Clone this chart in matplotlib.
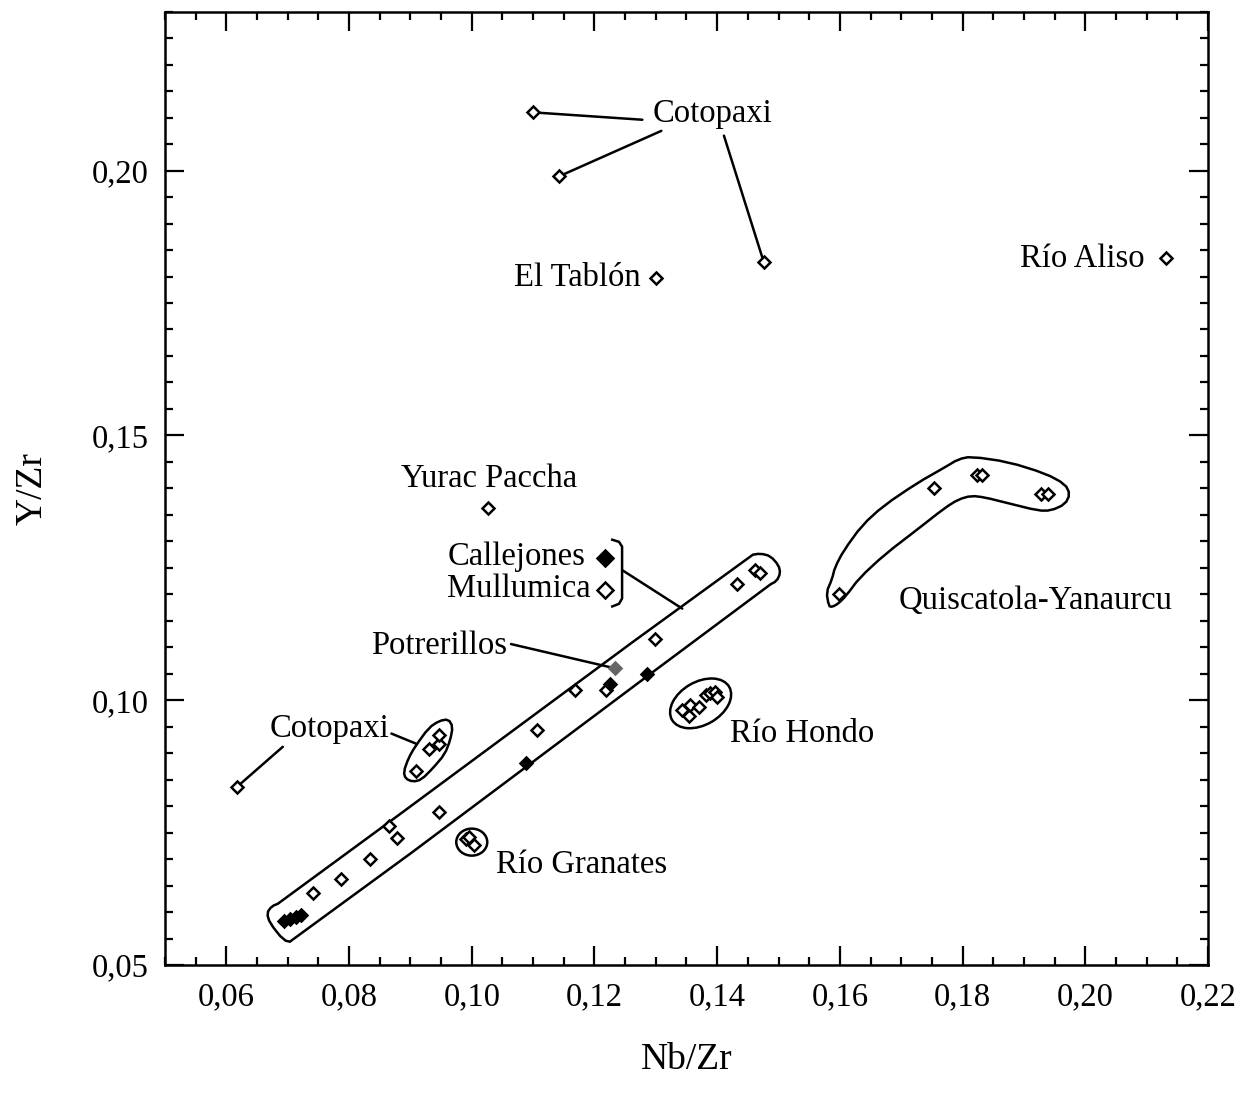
import numpy as np
import matplotlib
matplotlib.use('Agg')
import matplotlib.pyplot as plt
from matplotlib.patches import Polygon, Ellipse
from matplotlib.transforms import ScaledTranslation

plt.rcParams['font.family'] = ['Liberation Serif', 'DejaVu Serif']

# ---------------- data (Nb/Zr, Y/Zr) ----------------
mullumica_x = [0.0742, 0.0787, 0.0834, 0.0865, 0.0878, 0.0947, 0.1107, 0.1168, 0.1219, 0.1298, 0.1432, 0.1461, 0.1470]
mullumica_y = [0.0636, 0.0662, 0.0701, 0.0762, 0.0740, 0.0788, 0.0943, 0.1019, 0.1019, 0.1116, 0.1220, 0.1245, 0.1240]

callejones_x = [0.0694, 0.0703, 0.0713, 0.0721, 0.1089, 0.1225, 0.1286]
callejones_y = [0.0583, 0.0587, 0.0591, 0.0594, 0.0881, 0.1030, 0.1049]

potrerillos_x = [0.1234]
potrerillos_y = [0.1060]

cotopaxi_x = [0.1099, 0.1142, 0.1476, 0.0617, 0.0909, 0.0930, 0.0947, 0.0947]
cotopaxi_y = [0.2110, 0.1989, 0.1827, 0.0836, 0.0867, 0.0908, 0.0918, 0.0935]

tablon_x, tablon_y = [0.1300], [0.1798]
aliso_x, aliso_y = [0.2131], [0.1835]
yurac_x, yurac_y = [0.1027], [0.1362]

granates_x = [0.0991, 0.1004, 0.0996]
granates_y = [0.0737, 0.0726, 0.0741]

hondo_x = [0.1343, 0.1354, 0.1356, 0.1370, 0.1381, 0.1389, 0.1397, 0.1400]
hondo_y = [0.0981, 0.0970, 0.0991, 0.0987, 0.1009, 0.1013, 0.1016, 0.1006]

quisca_x = [0.1598, 0.1753, 0.1824, 0.1832, 0.1927, 0.1939]
quisca_y = [0.1200, 0.1401, 0.1426, 0.1426, 0.1390, 0.1390]

x_ticks = [0.06, 0.08, 0.10, 0.12, 0.14, 0.16, 0.18, 0.20, 0.22]
x_labels = ['0,06', '0,08', '0,10', '0,12', '0,14', '0,16', '0,18', '0,20', '0,22']
y_ticks = [0.05, 0.10, 0.15, 0.20]
y_labels = ['0,05', '0,10', '0,15', '0,20']

# ---------------- figure ----------------
W, H = 1253, 1095
fig = plt.figure(figsize=(W / 100, H / 100), dpi=100)
ax = fig.add_axes([165 / W, 1 - 965 / H, (1208 - 165) / W, (965 - 11.7) / H])
ax.set_xlim(0.05, 0.22)
ax.set_ylim(0.05, 0.23)

FS = 23.5
LW = 1.8


def chaikin(pts, n=1):
    p = np.asarray(pts, float)
    for _ in range(n):
        q = np.roll(p, -1, axis=0)
        a = 0.75 * p + 0.25 * q
        b = 0.25 * p + 0.75 * q
        p = np.empty((2 * len(a), 2))
        p[0::2] = a
        p[1::2] = b
    return p


# envelopes
band = [(0.0687, 0.0617), (0.0674, 0.0611), (0.0666, 0.0598), (0.0671, 0.0579),
        (0.0693, 0.0547), (0.0707, 0.0543), (0.1484, 0.1217), (0.1497, 0.1225),
        (0.1503, 0.1240), (0.1500, 0.1255), (0.1487, 0.1272), (0.1471, 0.1277),
        (0.1454, 0.1274)]
ax.add_patch(Polygon(chaikin(band, 1), closed=True, fill=False, lw=LW, ec='black', zorder=2))

quisca_env = [(0.1582, 0.1178), (0.1578, 0.1204), (0.1587, 0.1228), (0.1592, 0.1251),
              (0.1606, 0.1282), (0.1636, 0.1330), (0.1671, 0.1367), (0.1726, 0.1410),
              (0.1770, 0.1439), (0.1793, 0.1455), (0.1814, 0.1460), (0.1874, 0.1450),
              (0.1935, 0.1428), (0.1967, 0.1408), (0.1975, 0.1389), (0.1967, 0.1370),
              (0.1944, 0.1358), (0.1923, 0.1358), (0.1874, 0.1372), (0.1836, 0.1383),
              (0.1814, 0.1386), (0.1793, 0.1379), (0.1771, 0.1363), (0.1728, 0.1324),
              (0.1673, 0.1275), (0.1632, 0.1231), (0.1610, 0.1197), (0.1597, 0.1182),
              (0.1587, 0.1176)]
ax.add_patch(Polygon(chaikin(quisca_env, 1), closed=True, fill=False, lw=LW, ec='black', zorder=2))

coto_env = [(0.0889, 0.0865), (0.0897, 0.0891), (0.0908, 0.0913), (0.0930, 0.0948),
            (0.0947, 0.0961), (0.0962, 0.0964), (0.0969, 0.0950), (0.0965, 0.0925),
            (0.0956, 0.0898), (0.0937, 0.0872), (0.0918, 0.0850), (0.0904, 0.0846),
            (0.0892, 0.0852)]
ax.add_patch(Polygon(chaikin(coto_env, 1), closed=True, fill=False, lw=LW, ec='black', zorder=2))


def px_ellipse(cx, cy, w_px, h_px, angle):
    tr = fig.dpi_scale_trans + ScaledTranslation(cx, cy, ax.transData)
    return Ellipse((0, 0), w_px / 100, h_px / 100, angle=angle, transform=tr,
                   fill=False, lw=LW, ec='black', zorder=2)


ax.add_patch(px_ellipse(0.1373, 0.0994, 66, 43, 30))
ax.add_patch(px_ellipse(0.1000, 0.0732, 31, 27, 0))

# leader lines
def leader(p_from, p_to):
    ax.annotate('', xy=p_to, xytext=p_from,
                arrowprops=dict(arrowstyle='-', lw=LW, color='black', shrinkA=0, shrinkB=0),
                zorder=2)

leader((0.1278, 0.2096), (cotopaxi_x[0], cotopaxi_y[0]))
leader((0.1309, 0.2075), (cotopaxi_x[1], cotopaxi_y[1]))
leader((0.1411, 0.2066), (cotopaxi_x[2], cotopaxi_y[2]))
leader((0.0692, 0.0912), (cotopaxi_x[3], cotopaxi_y[3]))
leader((0.0869, 0.0937), (0.0909, 0.0918))
leader((0.1064, 0.1106), (potrerillos_x[0], potrerillos_y[0]))
leader((0.1246, 0.1245), (0.1343, 0.1173))

# bracket
br = [(0.1229, 0.1303), (0.1240, 0.1299), (0.1245, 0.1290), (0.1245, 0.1192),
      (0.1240, 0.1182), (0.1229, 0.1177)]
ax.plot([p[0] for p in br], [p[1] for p in br], color='black', lw=LW, zorder=2,
        solid_joinstyle='round')

# markers
MS = 6.2
MEW = 1.8
open_kw = dict(ls='none', marker='D', ms=MS, mfc='white', mec='black', mew=MEW, zorder=4)
for xs, ys in [(mullumica_x, mullumica_y), (cotopaxi_x, cotopaxi_y), (tablon_x, tablon_y),
               (aliso_x, aliso_y), (yurac_x, yurac_y), (granates_x, granates_y),
               (hondo_x, hondo_y), (quisca_x, quisca_y)]:
    ax.plot(xs, ys, **open_kw)
ax.plot(callejones_x, callejones_y, ls='none', marker='D', ms=MS, mfc='black', mec='black',
        mew=MEW, zorder=5)
ax.plot(potrerillos_x, potrerillos_y, ls='none', marker='D', ms=MS, mfc='#666666',
        mec='#666666', mew=MEW, zorder=5)

# legend-like markers for Callejones / Mullumica
ax.plot([0.1217], [0.1269], ls='none', marker='D', ms=8.5, mfc='black', mec='black', mew=MEW, zorder=5)
ax.plot([0.1217], [0.1209], ls='none', marker='D', ms=8.5, mfc='white', mec='black', mew=MEW, zorder=5)

# labels
def lab(x, y, s, ha='left'):
    ax.text(x, y, s, ha=ha, va='baseline', fontsize=FS, zorder=6)

lab(0.1392, 0.2091, 'Cotopaxi', ha='center')
lab(0.1275, 0.1783, 'El Tablón', ha='right')
lab(0.2097, 0.1818, 'Río Aliso', ha='right')
lab(0.1028, 0.1402, 'Yurac Paccha', ha='center')
lab(0.1186, 0.1255, 'Callejones', ha='right')
lab(0.1194, 0.1194, 'Mullumica', ha='right')
lab(0.1057, 0.1088, 'Potrerillos', ha='right')
lab(0.0671, 0.0930, 'Cotopaxi')
lab(0.1040, 0.0674, 'Río Granates')
lab(0.1421, 0.0921, 'Río Hondo')
lab(0.1695, 0.1173, 'Quiscatola-Yanaurcu')

# axes styling
ax.set_xticks(x_ticks)
ax.set_xticklabels(x_labels)
ax.set_yticks(y_ticks)
ax.set_yticklabels(y_labels)
ax.set_xticks(np.arange(0.05, 0.2201, 0.005), minor=True)
ax.set_yticks(np.arange(0.05, 0.2301, 0.005), minor=True)
ax.tick_params(which='both', direction='in', top=True, right=True, width=1.6,
               labelsize=FS, colors='black')
ax.tick_params(which='major', length=14, pad=12)
ax.tick_params(which='minor', length=6)
for sp in ax.spines.values():
    sp.set_linewidth(1.8)

ax.set_xlabel('Nb/Zr', fontsize=27, labelpad=22)
ax.set_ylabel('Y/Zr', fontsize=27, labelpad=30)

fig.savefig('out.png', dpi=100)
